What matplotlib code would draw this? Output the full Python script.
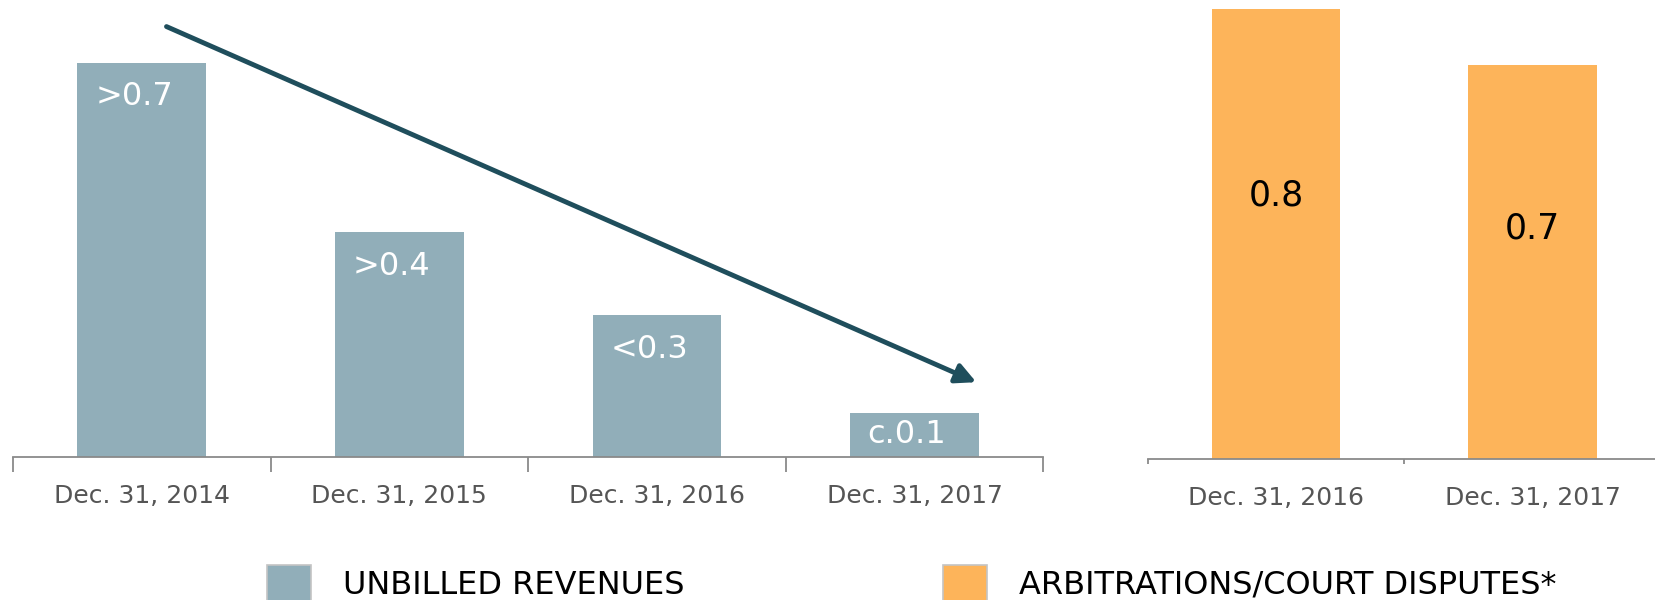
"""Unbilled revenues vs arbitrations / court disputes, two bar panels."""

import matplotlib

matplotlib.use("Agg")
import matplotlib.pyplot as plt
from matplotlib.patches import Patch

# data
unbilled_dates = ["Dec. 31, 2014", "Dec. 31, 2015", "Dec. 31, 2016", "Dec. 31, 2017"]
unbilled_values = [0.75, 0.428, 0.27, 0.085]
unbilled_labels = [">0.7", ">0.4", "<0.3", "c.0.1"]

dispute_dates = ["Dec. 31, 2016", "Dec. 31, 2017"]
dispute_values = [0.8, 0.7]
dispute_labels = ["0.8", "0.7"]

# trend arrow, in left-panel data units
trend_x = [0.096, 3.24]
trend_y = [0.82, 0.143]

legend_names = ["UNBILLED REVENUES", "ARBITRATIONS/COURT DISPUTES*"]

GREY = "#91aeb9"
ORANGE = "#fdb45a"
ARROW = "#1f4e5c"
AXIS = "#8a8a8a"
TICK_TXT = "#555555"

fig = plt.figure(figsize=(16.55, 6.0), dpi=100)


def style_axis(ax, n, tick_len):
    for side in ("top", "left", "right"):
        ax.spines[side].set_visible(False)
    ax.spines["bottom"].set_color(AXIS)
    ax.spines["bottom"].set_linewidth(1.3)
    ax.set_yticks([])
    ax.set_xlim(-0.5, n - 0.5)
    ax.set_xticks([i - 0.5 for i in range(n + 1)], minor=True)
    ax.tick_params(axis="x", which="minor", length=tick_len, width=1.3, color=AXIS)
    ax.tick_params(axis="x", which="major", length=0, pad=19, labelsize=18,
                   labelcolor=TICK_TXT)


# left panel
ax1 = fig.add_axes([0.00785, 0.2378, 0.6225, 0.7622])
x1 = range(len(unbilled_values))
ax1.bar(x1, unbilled_values, width=0.5, color=GREY, linewidth=0)
ax1.set_ylim(0, 0.8706)
ax1.set_xticks(list(x1), unbilled_dates)
style_axis(ax1, len(unbilled_values), 10.8)
for i, (v, lab) in enumerate(zip(unbilled_values, unbilled_labels)):
    ax1.text(i - 0.03, max(v - 0.064, v / 2), lab, ha="center", va="center",
             color="white", fontsize=23)

ax1.annotate("", xy=(trend_x[1], trend_y[1]), xytext=(trend_x[0], trend_y[0]),
             annotation_clip=False,
             arrowprops=dict(arrowstyle="-|>", color=ARROW, lw=3.5,
                             mutation_scale=30, shrinkA=0, shrinkB=0))

# right panel
ax2 = fig.add_axes([0.6935, 0.2345, 0.31, 0.7655])
x2 = range(len(dispute_values))
ax2.bar(x2, dispute_values, width=0.5, color=ORANGE, linewidth=0)
ax2.set_ylim(0, 0.8155)
ax2.set_xticks(list(x2), dispute_dates)
style_axis(ax2, len(dispute_values), 3.6)
for i, (v, lab) in enumerate(zip(dispute_values, dispute_labels)):
    ax2.text(i, v * 0.585, lab, ha="center", va="center", color="black",
             fontsize=25)

# legend, one entry per panel
fs = 23
fs_px = fs * 100 / 72
for name, color, left in zip(legend_names, [GREY, ORANGE], [267 / 1655, 943 / 1655]):
    fig.legend(handles=[Patch(facecolor=color, edgecolor="#c4c4c4", linewidth=1.2,
                              label=name)],
               loc="center left", bbox_to_anchor=(left, 1 - 583 / 600),
               frameon=False, borderpad=0, borderaxespad=0,
               handlelength=44 / fs_px, handleheight=44 / fs_px,
               handletextpad=32 / fs_px,
               prop={"size": fs})

fig.savefig("out.png", dpi=100)
plt.close(fig)
